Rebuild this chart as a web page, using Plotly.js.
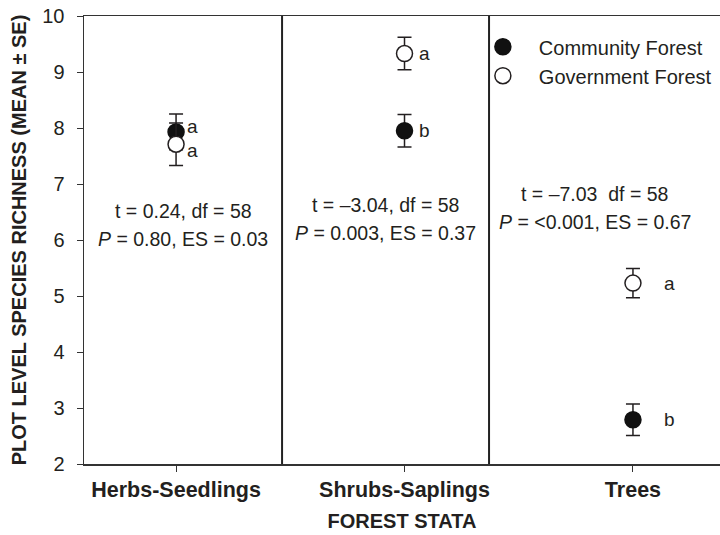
<!DOCTYPE html>
<html>
<head>
<meta charset="utf-8">
<script src="https://cdn.plot.ly/plotly-3.0.1.min.js"></script>
<style>
  html, body { margin: 0; padding: 0; background: #fff; }
  #chart { width: 720px; height: 535px; }
</style>
</head>
<body>
<div id="chart"></div>
<script>
// Forest strata on the x axis
const strata = ['Herbs-Seedlings', 'Shrubs-Saplings', 'Trees'];

// Plot-level species richness, mean and standard error
const communityMean = [7.93, 7.95, 2.79];
const communitySE   = [0.32, 0.29, 0.28];
const governmentMean = [7.71, 9.33, 5.23];
const governmentSE   = [0.38, 0.29, 0.26];

// Significance letters per stratum
const communityLetters  = ['a', 'b', 'b'];
const governmentLetters = ['a', 'a', 'a'];

// t-test summaries per stratum
const statLine1 = ['t = 0.24, df = 58', 't = \u20133.04, df = 58', 't = \u20137.03\u00a0 df = 58'];
const statLine2 = ['<i>P</i> = 0.80, ES = 0.03', '<i>P</i> = 0.003, ES = 0.37', '<i>P</i> = &lt;0.001, ES = 0.67'];

const FONT = 'Liberation Sans, Arial, Helvetica, sans-serif';
const INK = '#231f20';

const traces = [
  {
    name: 'Community Forest',
    type: 'scatter', mode: 'markers',
    x: strata, y: communityMean,
    error_y: { type: 'data', array: communitySE, visible: true, color: INK, thickness: 1.5, width: 7 },
    marker: { symbol: 'circle', size: 16, color: '#111', line: { color: '#111', width: 1.5 } },
    cliponaxis: false
  },
  {
    name: 'Government Forest',
    type: 'scatter', mode: 'markers',
    x: strata, y: governmentMean,
    error_y: { type: 'data', array: governmentSE, visible: true, color: INK, thickness: 1.5, width: 7 },
    marker: { symbol: 'circle', size: 16, color: '#fff', line: { color: INK, width: 1.5 } },
    cliponaxis: false
  }
];

// Letter label offsets from the markers, per panel
const letterShiftX = [16, 20, 37];
const communityLetterShiftY = [5, 0, 0];
const governmentLetterShiftY = [-6, 0, 0];
// Placement of the two summary lines, per panel
const statAnchorY = [6.27, 6.37, 6.57];
const statShiftX = [7, -19, -38];

const annotations = [];
strata.forEach((s, i) => {
  annotations.push({
    x: s, y: communityMean[i], xref: 'x', yref: 'y', text: communityLetters[i],
    showarrow: false, xshift: letterShiftX[i], yshift: communityLetterShiftY[i], xanchor: 'center',
    font: { family: FONT, size: 19, color: INK }
  });
  annotations.push({
    x: s, y: governmentMean[i], xref: 'x', yref: 'y', text: governmentLetters[i],
    showarrow: false, xshift: letterShiftX[i], yshift: governmentLetterShiftY[i], xanchor: 'center',
    font: { family: FONT, size: 19, color: INK }
  });
  annotations.push({
    x: s, y: statAnchorY[i], xref: 'x', yref: 'y', text: statLine1[i],
    showarrow: false, yshift: 14, xshift: statShiftX[i],
    font: { family: FONT, size: 19.5, color: INK }
  });
  annotations.push({
    x: s, y: statAnchorY[i], xref: 'x', yref: 'y', text: statLine2[i],
    showarrow: false, yshift: -14, xshift: statShiftX[i],
    font: { family: FONT, size: 19.5, color: INK }
  });
});

// Vertical separators between the strata panels
const dividers = [0.464, 1.370];
const shapes = dividers.map(x => ({
  type: 'line', xref: 'x', yref: 'paper', x0: x, x1: x, y0: 0, y1: 1,
  line: { color: '#222', width: 2 }
}));

const layout = {
  width: 720, height: 535,
  margin: { l: 84, r: 0, t: 16, b: 71 },
  paper_bgcolor: '#fff', plot_bgcolor: '#fff',
  font: { family: FONT, color: INK },
  showlegend: true,
  legend: {
    x: 0.602, y: 0.975, xanchor: 'left', yanchor: 'top',
    bgcolor: 'rgba(0,0,0,0)', borderwidth: 0,
    font: { family: FONT, size: 20, color: INK },
    itemwidth: 62, tracegroupgap: 0
  },
  xaxis: {
    type: 'category',
    range: [-0.403, 2.381],
    showgrid: false, zeroline: false,
    showline: true, linecolor: '#333', linewidth: 1.5, mirror: true,
    ticks: 'outside', ticklen: 6, tickwidth: 1, tickcolor: '#333',
    tickfont: { family: FONT, size: 21.5, color: INK, weight: 'bold' },
    title: { text: '<b>FOREST STATA</b>', font: { family: FONT, size: 20, color: INK }, standoff: 12 }
  },
  yaxis: {
    range: [2, 10], dtick: 1,
    showgrid: false, zeroline: false,
    showline: true, linecolor: '#333', linewidth: 1.5,
    ticks: 'outside', ticklen: 6, tickwidth: 1, tickcolor: '#333',
    ticklabelstandoff: 8,
    tickfont: { family: FONT, size: 20, color: INK },
    title: { text: '<b>PLOT LEVEL SPECIES RICHNESS (MEAN \u00b1 SE)</b>', font: { family: FONT, size: 20, color: INK }, standoff: 10 }
  },
  annotations: annotations,
  shapes: shapes
};

Plotly.newPlot('chart', traces, layout, { displayModeBar: false, staticPlot: true });
</script>
</body>
</html>
